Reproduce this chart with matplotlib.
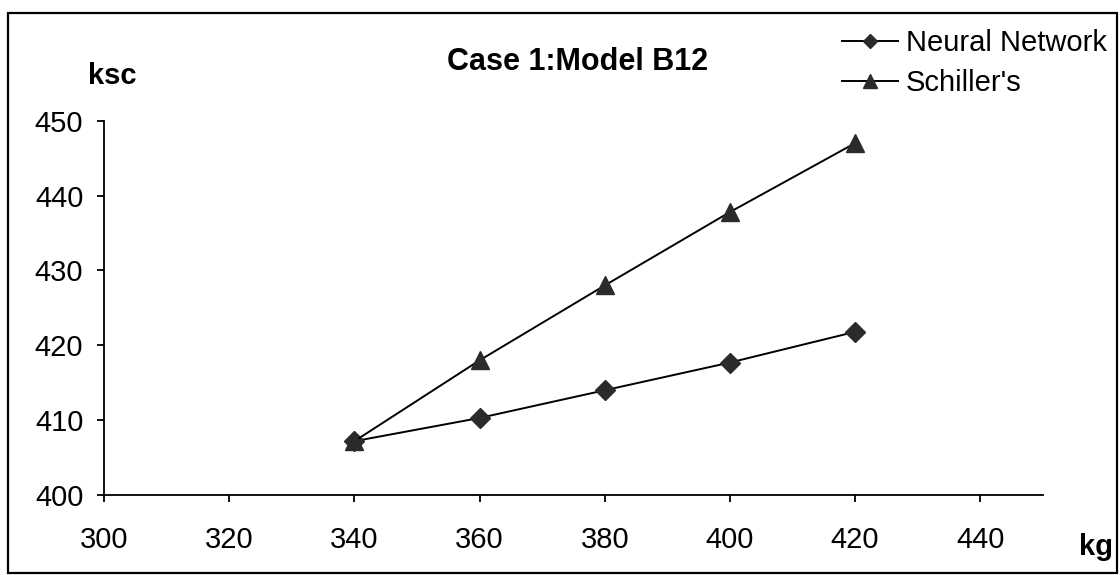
import matplotlib
matplotlib.use("Agg")
import matplotlib.pyplot as plt
from matplotlib.patches import Rectangle

# data
x_kg = [340, 360, 380, 400, 420]
neural_network = [407.2, 410.3, 414.0, 417.7, 421.8]
schillers = [407.2, 418.0, 428.0, 437.8, 447.0]

x_ticks = [300, 320, 340, 360, 380, 400, 420, 440]
y_ticks = [400, 410, 420, 430, 440, 450]

plt.rcParams["font.family"] = ["Liberation Sans", "DejaVu Sans"]

fig = plt.figure(figsize=(11.2, 5.75), dpi=100)
ax = fig.add_axes([0.093, 0.139, 0.838, 0.651])

ax.plot(x_kg, neural_network, color="black", lw=1.4, marker="D",
        markersize=10, markerfacecolor="#2b2b2b", markeredgecolor="#2b2b2b",
        label="Neural Network")
ax.plot(x_kg, schillers, color="black", lw=1.4, marker="^",
        markersize=13, markerfacecolor="#2b2b2b", markeredgecolor="#2b2b2b",
        label="Schiller's")

ax.set_xlim(300, 450)
ax.set_ylim(400, 450)
ax.set_xticks(x_ticks)
ax.set_yticks(y_ticks)
ax.tick_params(axis="both", labelsize=21, length=5, width=1.3, direction="out",
               color="black")
ax.tick_params(axis="x", pad=17)
ax.tick_params(axis="y", pad=10)
for side in ("top", "right"):
    ax.spines[side].set_visible(False)
for side in ("left", "bottom"):
    ax.spines[side].set_linewidth(1.3)

fig.text(0.516, 0.892, "Case 1:Model B12", fontsize=22, fontweight="bold",
         ha="center", va="center")
fig.text(0.100, 0.868, "ksc", fontsize=21, fontweight="bold",
         ha="center", va="center")
fig.text(0.979, 0.049, "kg", fontsize=21, fontweight="bold",
         ha="center", va="center")

fig.legend(loc="upper left", bbox_to_anchor=(0.752, 0.950), frameon=False,
           fontsize=21, handlelength=1.9, handletextpad=0.28, labelspacing=0.42,
           borderpad=0, borderaxespad=0, markerscale=0.75)

# outer frame of the scanned chart
fig.patches.append(Rectangle((0.007, 0.0035), 0.990, 0.974, transform=fig.transFigure,
                             fill=False, edgecolor="black", lw=1.6))

fig.savefig("out.png", dpi=100, facecolor="white")
